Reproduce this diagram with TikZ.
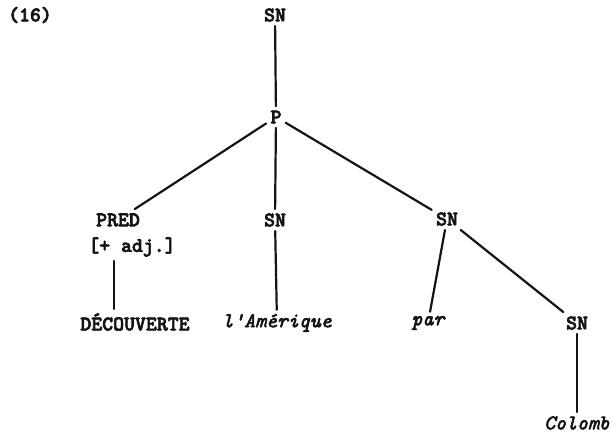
\documentclass[tikz,border=0pt]{standalone}
\usepackage{fontspec}
\usetikzlibrary{positioning, calc}
\definecolor{inkBlack}{RGB}{ 20, 20, 20}
\tikzset{
  %% category label (SN, P, PRED ...)
  cat/.style={
    font=\fontsize{10.4}{12}\selectfont\ttfamily\bfseries, text=inkBlack,
    inner sep=2pt, anchor=center,
    execute at begin node=\special{pdf:code 2 Tr 0.32 w},
    execute at end node=\special{pdf:code 0 Tr}
  },
  %% lexical item (italic typewriter)
  word/.style={
    cat, font=\fontsize{10.4}{12}\selectfont\ttfamily\itshape
  },
  %% tree branch
  branch/.style={
    line width=1.1pt, color=inkBlack, line cap=round
  }
}

\begin{document}
\begin{tikzpicture}[x=0.5pt, y=-0.5pt]

\useasboundingbox (0,0) rectangle (616,434);

%% ═══════════════════════════════════════════════════════════
%%  EXAMPLE NUMBER
%% ═══════════════════════════════════════════════════════════

\node[cat] (num) at (30, 15) {(16)};

%% ═══════════════════════════════════════════════════════════
%%  UPPER LEVELS
%% ═══════════════════════════════════════════════════════════

\node[cat] (sntop)   at (275, 15)  {SN};
\node[cat] (p)       at (276, 117) {P};

\node[cat] (pred)    at (118, 220) {PRED};
\node[cat] (feat)    at (132, 247) {[+ adj.]};
\node[cat] (snmid)   at (275, 220) {SN};
\node[cat] (snright) at (447, 219) {SN};

%% ═══════════════════════════════════════════════════════════
%%  LOWER LEVELS
%% ═══════════════════════════════════════════════════════════

\node[cat]  (decouv)   at (135, 322) {DÉCOUVERTE};
\node[word] (amerique) at (277, 323) {l'Amérique};
\node[word] (par)      at (428, 323) {par};
\node[cat]  (snlow)    at (577, 323) {SN};
\node[word] (colomb)   at (577, 423) {Colomb};

%% ═══════════════════════════════════════════════════════════
%%  BRANCHES
%% ═══════════════════════════════════════════════════════════

\draw[branch] (sntop) -- (p);
\draw[branch] (p) -- (pred);
\draw[branch] (p) -- (snmid);
\draw[branch] (p) -- (snright);

% PRED goes down from under the feature bracket
\draw[branch] ([xshift=-9]feat.south) -- ([xshift=-9]feat.south |- decouv.north);

\draw[branch] (snmid) -- (amerique);
\draw[branch] (snright) -- (par);
\draw[branch] (snright) -- (snlow);
\draw[branch] (snlow) -- (colomb);

\end{tikzpicture}
\end{document}
